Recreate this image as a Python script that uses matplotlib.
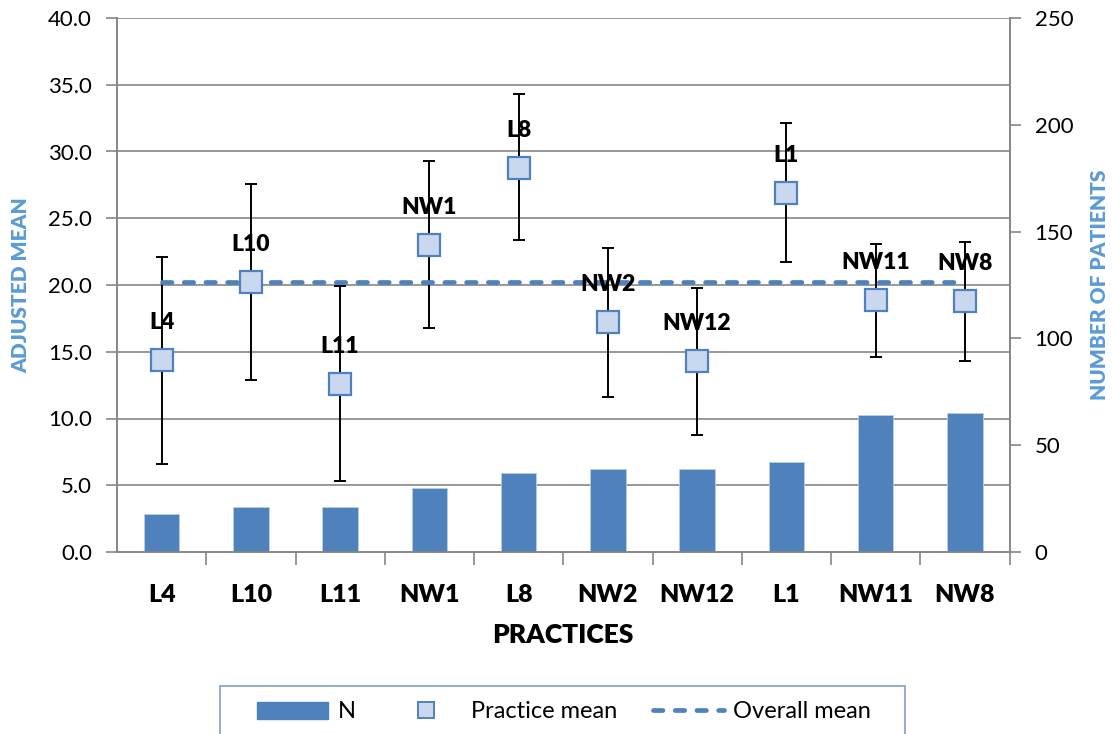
import matplotlib
matplotlib.use("Agg")
import matplotlib.pyplot as plt
from matplotlib.patches import Rectangle
from matplotlib.lines import Line2D
from matplotlib.patches import Patch
import numpy as np

plt.rcParams['font.family'] = ['Lato', 'DejaVu Sans']

practices = ["L4", "L10", "L11", "NW1", "L8", "NW2", "NW12", "L1", "NW11", "NW8"]
n_patients = [18, 21, 21, 30, 37, 39, 39, 42, 64, 65]
practice_mean = [14.4, 20.2, 12.6, 23.0, 28.8, 17.2, 14.3, 26.9, 18.9, 18.8]
ci_upper = [22.1, 27.6, 19.9, 29.3, 34.3, 22.8, 19.8, 32.1, 23.1, 23.2]
ci_lower = [6.6, 12.9, 5.3, 16.8, 23.4, 11.6, 8.8, 21.7, 14.6, 14.3]
overall_mean = 20.2

left_ticks = [0, 5, 10, 15, 20, 25, 30, 35, 40]
right_ticks = [0, 50, 100, 150, 200, 250]

BAR = "#4F81BD"
GRID = "#868686"
TITLE_BLUE = "#5B9BD5"
BOLD = 'heavy'

fig = plt.figure(figsize=(11.13, 7.34), dpi=100)
ax = fig.add_axes([117/1113, 1-552/734, (1009.5-117)/1113, (552-18)/734])
ax2 = ax.twinx()

x = np.arange(len(practices))
mean = np.array(practice_mean)
yerr = np.vstack([mean - np.array(ci_lower), np.array(ci_upper) - mean])

ax.set_ylim(0, 40)
ax.set_yticks(left_ticks)
ax.set_yticklabels([f"{v:.1f}" for v in left_ticks])
for v in left_ticks[1:]:
    ax.axhline(v, color=GRID, lw=1.2, zorder=0)

ax.errorbar(x, mean, yerr=yerr, fmt='none', ecolor='black', elinewidth=1.4,
            capsize=4, capthick=1.4, zorder=3)
ax.plot([x[0], x[-1]], [overall_mean, overall_mean], color=BAR, lw=3.4,
        linestyle=(0, (2, 2.6)), dash_capstyle='round', zorder=4)
ax.plot(x, mean, linestyle='none', marker='s', markersize=15.5,
        markerfacecolor="#C9D7EF", markeredgecolor=BAR, markeredgewidth=1.6, zorder=5)
for xi, m, lab in zip(x, mean, practices):
    ax.annotate(lab, (xi, m), xytext=(0, 27), textcoords='offset points',
                ha='center', va='center', fontsize=16.5, fontweight=BOLD, zorder=6)

ax2.bar(x, n_patients, width=0.4, color=BAR, edgecolor="#B9CDE5", linewidth=0.6, zorder=2)
ax2.set_ylim(0, 250)
ax2.set_yticks(right_ticks)
ax2.set_yticklabels([str(v) for v in right_ticks])

ax.set_xlim(-0.5, len(practices) - 0.5)
ax.set_xticks(x)
ax.set_xticklabels(practices, fontsize=18, fontweight=BOLD)
ax.set_xticks(np.arange(0.5, len(practices) - 0.5 + 0.01, 1.0), minor=True)
ax.tick_params(axis='x', which='major', length=0, pad=23)
ax.tick_params(axis='x', which='minor', length=9, width=1.2, color=GRID, direction='out')
ax.tick_params(axis='y', length=8, width=1.2, color=GRID, labelsize=16, pad=10)
ax2.tick_params(axis='y', length=8, width=1.2, color=GRID, labelsize=16, pad=10)

for a in (ax, ax2):
    a.spines['top'].set_visible(False)
    for s in ('left', 'right', 'bottom'):
        a.spines[s].set_color(GRID)
        a.spines[s].set_linewidth(1.2)

fig.text(563/1113, 1-635/734, "PRACTICES", ha='center', va='center',
         fontsize=19, fontweight=BOLD)
fig.text(21/1113, 1-285/734, "ADJUSTED MEAN", ha='center', va='center',
         rotation=90, fontsize=15, fontweight=BOLD, color=TITLE_BLUE)
fig.text(1100/1113, 1-285/734, "NUMBER OF PATIENTS", ha='center', va='center',
         rotation=90, fontsize=15, fontweight=BOLD, color=TITLE_BLUE)

fig.patches.append(Rectangle((220/1113, 1-740/734), (905-220)/1113, (740-686)/734,
                             transform=fig.transFigure, fill=False,
                             edgecolor="#7F9FCB", linewidth=1.2))
handles = [Patch(facecolor=BAR, edgecolor=BAR),
           Line2D([], [], linestyle='none', marker='s', markersize=11,
                  markerfacecolor="#C9D7EF", markeredgecolor=BAR, markeredgewidth=1.4),
           Line2D([], [], color=BAR, lw=3.4, linestyle=(0, (2, 2.6)), dash_capstyle='round')]
leg = fig.legend(handles, ["N", "Practice mean", "Overall mean"], ncol=3,
                 loc='center', bbox_to_anchor=(564/1113, 1-712/734), frameon=False,
                 fontsize=17, handlelength=3.0, handleheight=0.7, handletextpad=0.4,
                 columnspacing=1.5)

fig.savefig("out.png", dpi=100)
